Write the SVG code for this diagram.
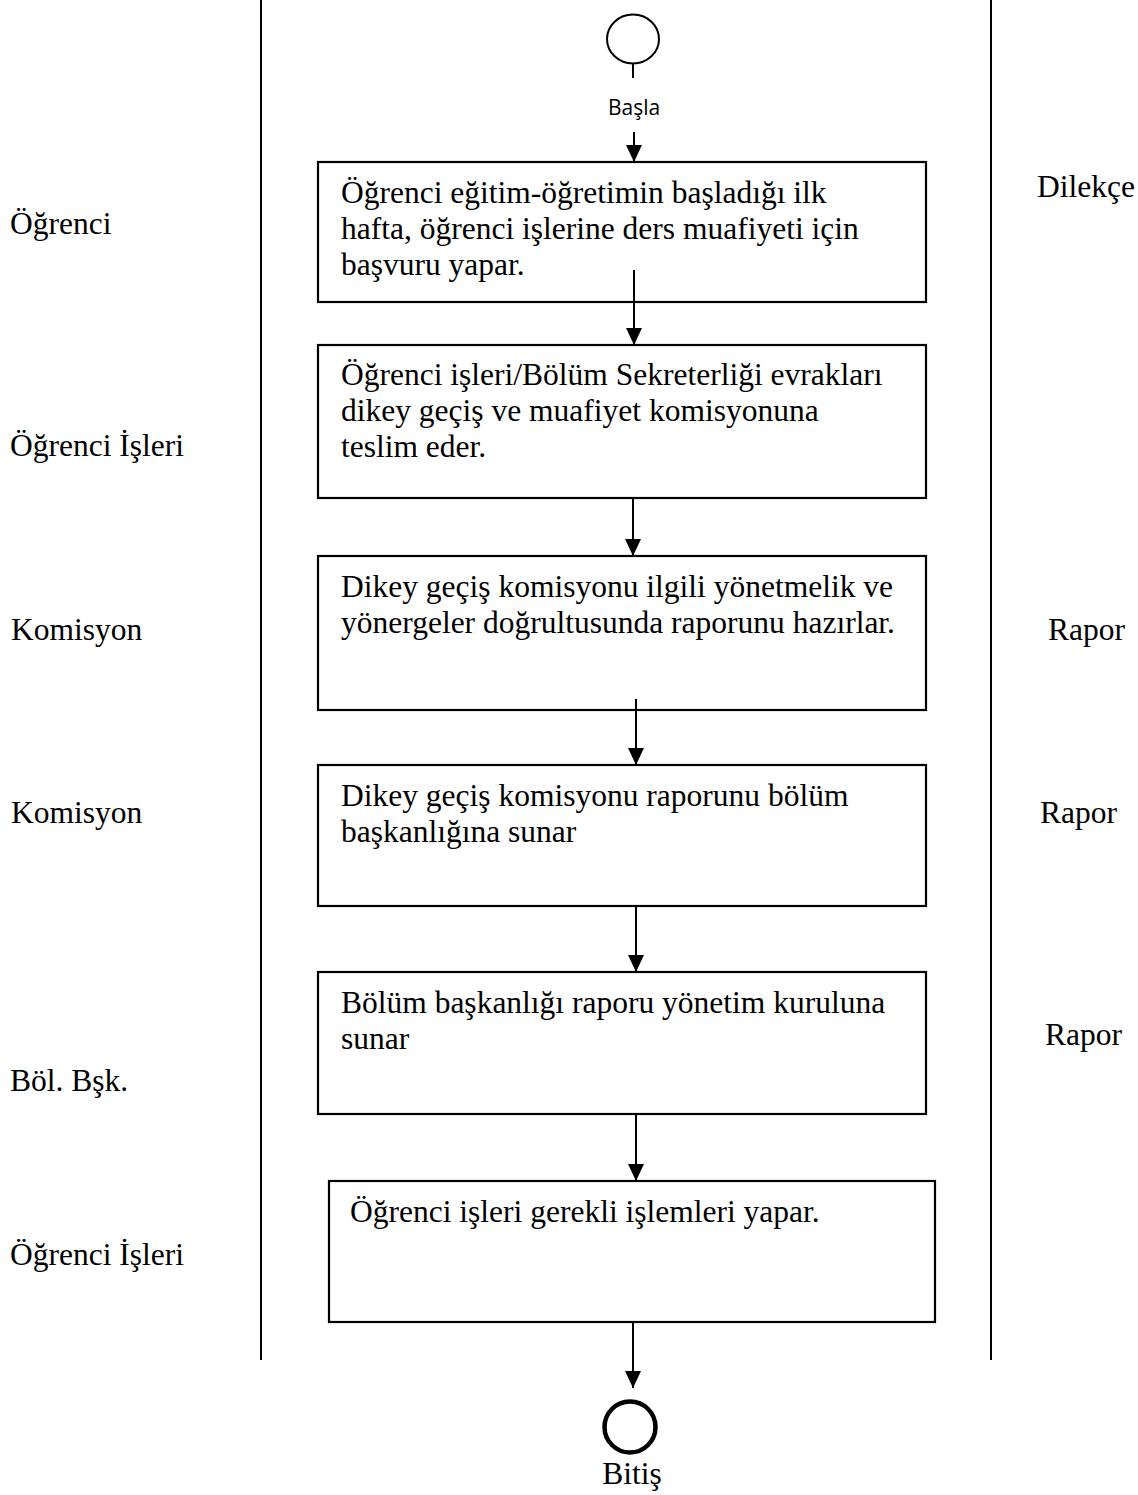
<svg xmlns="http://www.w3.org/2000/svg" width="1138" height="1495" viewBox="0 0 1138 1495">
<style>
.t{font-family:"Liberation Serif","Times New Roman",serif;font-size:31.5px;fill:#000}
.s{font-family:"Open Sans","Liberation Sans",sans-serif;font-size:21px;fill:#000}
.box{fill:#fff;stroke:#000;stroke-width:2.2}
.lane{stroke:#000;stroke-width:2;fill:none}
.c{stroke:#000;stroke-width:2;fill:none}
</style>
<defs>
<marker id="arr" markerWidth="17" markerHeight="16" refX="17" refY="8" orient="auto" markerUnits="userSpaceOnUse" viewBox="0 0 17 16">
<path d="M0,0 L17,8 L0,16 Z" fill="#000"/>
</marker>
</defs>
<rect width="1138" height="1495" fill="#fff"/>
<g id="lanes">
<line class="lane" x1="261" y1="0" x2="261" y2="1360"/>
<line class="lane" x1="991" y1="0" x2="991" y2="1360"/>
</g>
<g id="roles">
<text class="t" x="10" y="234">Öğrenci</text>
<text class="t" x="10" y="456">Öğrenci İşleri</text>
<text class="t" x="11" y="640">Komisyon</text>
<text class="t" x="11" y="823">Komisyon</text>
<text class="t" x="10" y="1091">Böl. Bşk.</text>
<text class="t" x="10" y="1265">Öğrenci İşleri</text>
</g>
<g id="docs">
<text class="t" x="1037" y="197">Dilekçe</text>
<text class="t" x="1048" y="640">Rapor</text>
<text class="t" x="1040" y="823">Rapor</text>
<text class="t" x="1045" y="1045">Rapor</text>
</g>
<g id="start">
<ellipse cx="633" cy="39" rx="26" ry="24.5" fill="#fff" stroke="#000" stroke-width="2"/>
<line x1="633" y1="63.5" x2="633" y2="78" stroke="#000" stroke-width="2"/>
<text class="s" x="634" y="115" text-anchor="middle">Başla</text>
</g>
<g id="n1">
<rect class="box" x="318" y="162" width="608" height="140"/>
<text class="t" x="341" y="203">Öğrenci eğitim-öğretimin başladığı ilk</text>
<text class="t" x="341" y="239">hafta, öğrenci işlerine ders muafiyeti için</text>
<text class="t" x="341" y="275">başvuru yapar.</text>
</g>
<g id="n2">
<rect class="box" x="318" y="345" width="608" height="153"/>
<text class="t" x="341" y="385">Öğrenci işleri/Bölüm Sekreterliği evrakları</text>
<text class="t" x="341" y="421">dikey geçiş ve muafiyet komisyonuna</text>
<text class="t" x="341" y="457">teslim eder.</text>
</g>
<g id="n3">
<rect class="box" x="318" y="556" width="608" height="154"/>
<text class="t" x="341" y="597">Dikey geçiş komisyonu ilgili yönetmelik ve</text>
<text class="t" x="341" y="633">yönergeler doğrultusunda raporunu hazırlar.</text>
</g>
<g id="n4">
<rect class="box" x="318" y="765" width="608" height="141"/>
<text class="t" x="341" y="806">Dikey geçiş komisyonu raporunu bölüm</text>
<text class="t" x="341" y="842">başkanlığına sunar</text>
</g>
<g id="n5">
<rect class="box" x="318" y="972" width="608" height="142"/>
<text class="t" x="341" y="1013">Bölüm başkanlığı raporu yönetim kuruluna</text>
<text class="t" x="341" y="1049">sunar</text>
</g>
<g id="n6">
<rect class="box" x="329" y="1181" width="606" height="141"/>
<text class="t" x="350" y="1222">Öğrenci işleri gerekli işlemleri yapar.</text>
</g>
<g id="end">
<circle cx="630" cy="1427" r="25.5" fill="none" stroke="#000" stroke-width="4.5"/>
<text class="t" x="632" y="1484" text-anchor="middle">Bitiş</text>
</g>
<g id="connectors">
<line class="c" x1="634" y1="132" x2="634" y2="162" marker-end="url(#arr)"/>
<line class="c" x1="634" y1="270" x2="634" y2="345" marker-end="url(#arr)"/>
<line class="c" x1="633" y1="498" x2="633" y2="556" marker-end="url(#arr)"/>
<line class="c" x1="636" y1="699" x2="636" y2="765" marker-end="url(#arr)"/>
<line class="c" x1="636" y1="906" x2="636" y2="972" marker-end="url(#arr)"/>
<line class="c" x1="636" y1="1114" x2="636" y2="1181" marker-end="url(#arr)"/>
<line class="c" x1="633" y1="1322" x2="633" y2="1388" marker-end="url(#arr)"/>
</g>
</svg>
